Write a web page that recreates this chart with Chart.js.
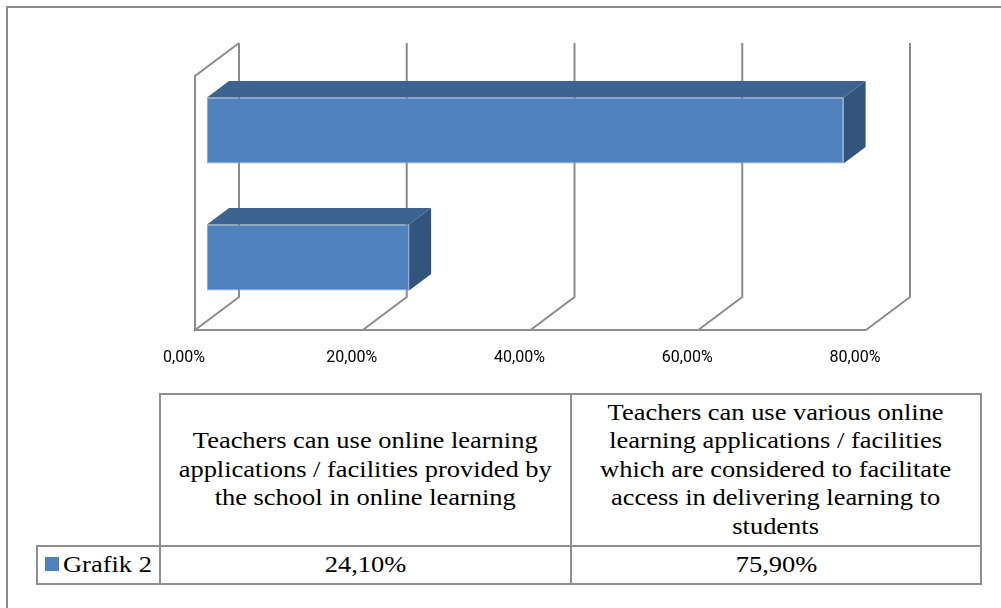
<!DOCTYPE html>
<html>
<head>
<meta charset="utf-8">
<script src="https://cdn.jsdelivr.net/npm/chart.js@4.4.0/dist/chart.umd.min.js"></script>
<style>
  html, body { margin: 0; padding: 0; background: #fff; overflow: hidden; }
  #wrap { position: relative; width: 1001px; height: 608px; overflow: hidden; }
  #frame { position: absolute; left: 6px; top: 6px; width: 1100px; height: 700px;
           border-left: 2px solid #8c8c8c; border-top: 2px solid #8c8c8c; }
  #chart { position: absolute; left: 0; top: 0; }
  .cell { position: absolute; box-sizing: border-box; border: 2px solid #8f8f8f;
          display: flex; align-items: center; justify-content: center; text-align: center;
          font-family: "Liberation Serif", "Times New Roman", serif; font-size: 23px;
          line-height: 28.5px; color: #000; background: #fff; }
  .cell span { display: inline-block; transform: scaleX(1.15); white-space: nowrap; }
  .key { position: absolute; width: 14px; height: 14px; background: #4f81bd; }
</style>
</head>
<body>
<div id="wrap">
  <div id="frame"></div>
  <canvas id="chart" width="1001" height="608"></canvas>
  <div id="table"></div>
</div>
<script>
// categories (one line per entry, as they wrap in the data table)
const categories = [
  ['Teachers can use online learning', 'applications / facilities provided by', 'the school in online learning'],
  ['Teachers can use various online', 'learning applications / facilities', 'which are considered to facilitate', 'access in delivering learning to', 'students']
];
const seriesName = 'Grafik 2';
const values = [24.1, 75.9];
const xTicks = [0, 20, 40, 60, 80];

const fmt = v => v.toFixed(2).replace('.', ',') + '%';

// 3D look: offsets measured from the bar front plane
const BACK = { dx: 32, dy: -24 };
const FRONT = { dx: -12, dy: 9 };
const BAR_DEPTH = { dx: 22, dy: -16.5 };

const wallsPlugin = {
  id: 'walls',
  beforeDatasetsDraw(chart) {
    const { ctx, chartArea: a, scales: { x } } = chart;
    ctx.save();
    ctx.strokeStyle = '#8c8c8c';
    ctx.lineWidth = 2;
    ctx.beginPath();
    // left wall
    ctx.moveTo(a.left + BACK.dx, a.bottom + BACK.dy);
    ctx.lineTo(a.left + FRONT.dx, a.bottom + FRONT.dy);
    ctx.lineTo(a.left + FRONT.dx, a.top + FRONT.dy);
    ctx.lineTo(a.left + BACK.dx, a.top + BACK.dy);
    // floor front edge
    ctx.moveTo(a.left + FRONT.dx, a.bottom + FRONT.dy);
    ctx.lineTo(x.getPixelForValue(x.max) + FRONT.dx, a.bottom + FRONT.dy);
    // back wall gridlines + floor diagonals
    x.ticks.forEach(t => {
      const px = x.getPixelForValue(t.value);
      ctx.moveTo(px + BACK.dx, a.top + BACK.dy);
      ctx.lineTo(px + BACK.dx, a.bottom + BACK.dy);
      ctx.lineTo(px + FRONT.dx, a.bottom + FRONT.dy);
    });
    ctx.stroke();
    ctx.restore();
  },
  afterDatasetsDraw(chart) {
    const { ctx } = chart;
    ctx.save();
    chart.getDatasetMeta(0).data.forEach(bar => {
      const { x, y, base, height } = bar.getProps(['x', 'y', 'base', 'height'], true);
      const t = y - height / 2, b = y + height / 2;
      const d = BAR_DEPTH;
      // top face
      ctx.fillStyle = '#3d6391';
      ctx.beginPath();
      ctx.moveTo(base, t);
      ctx.lineTo(base + d.dx, t + d.dy);
      ctx.lineTo(x + d.dx, t + d.dy);
      ctx.lineTo(x, t);
      ctx.closePath();
      ctx.fill();
      // side face
      ctx.fillStyle = '#32547d';
      ctx.beginPath();
      ctx.moveTo(x, t);
      ctx.lineTo(x + d.dx, t + d.dy);
      ctx.lineTo(x + d.dx, b + d.dy);
      ctx.lineTo(x, b);
      ctx.closePath();
      ctx.fill();
    });
    ctx.restore();
  }
};

new Chart(document.getElementById('chart').getContext('2d'), {
  type: 'bar',
  data: {
    labels: categories.map(c => c.join(' ')),
    datasets: [{
      label: seriesName,
      data: values,
      backgroundColor: '#4f81bd',
      borderColor: '#8aa9d2',
      borderWidth: 1,
      borderSkipped: false,
      barPercentage: 0.52,
      categoryPercentage: 1
    }]
  },
  options: {
    indexAxis: 'y',
    responsive: false,
    animation: false,
    events: [],
    layout: { padding: { left: 207, right: 123, top: 67, bottom: 227 } },
    plugins: { legend: { display: false }, tooltip: { enabled: false } },
    scales: {
      x: {
        min: 0,
        max: 80,
        afterBuildTicks: axis => { axis.ticks = xTicks.map(v => ({ value: v })); },
        afterFit: axis => { axis.height = 60; },
        grid: { display: false, drawTicks: false },
        border: { display: false },
        ticks: {
          padding: 27,
          labelOffset: -23,
          color: '#000',
          font: { family: 'Roboto, sans-serif', size: 16 },
          callback: v => fmt(v)
        }
      },
      y: { display: false, reverse: true }
    }
  },
  plugins: [wallsPlugin]
});

// data table under the chart
const colX = [37, 160, 571, 981];
const headTop = 394, rowTop = 546, rowBottom = 584;
const table = document.getElementById('table');
function cell(x0, y0, x1, y1, html) {
  const d = document.createElement('div');
  d.className = 'cell';
  d.style.left = (x0 - 1) + 'px';
  d.style.top = (y0 - 1) + 'px';
  d.style.width = (x1 - x0 + 2) + 'px';
  d.style.height = (y1 - y0 + 2) + 'px';
  if (html !== null) d.innerHTML = html;
  table.appendChild(d);
  return d;
}
categories.forEach((lines, i) => {
  cell(colX[i + 1], headTop, colX[i + 2], rowTop, '<span>' + lines.join('<br>') + '</span>');
  cell(colX[i + 1], rowTop, colX[i + 2], rowBottom, '<span>' + fmt(values[i]) + '</span>');
});
const lg = cell(colX[0], rowTop, colX[1], rowBottom, null);
lg.style.justifyContent = 'flex-start';
const key = document.createElement('div');
key.className = 'key';
key.style.left = '7px';
key.style.top = '10px';
lg.appendChild(key);
const name = document.createElement('span');
name.textContent = seriesName;
name.style.transformOrigin = 'left center';
name.style.marginLeft = '25px';
lg.appendChild(name);
</script>
</body>
</html>
